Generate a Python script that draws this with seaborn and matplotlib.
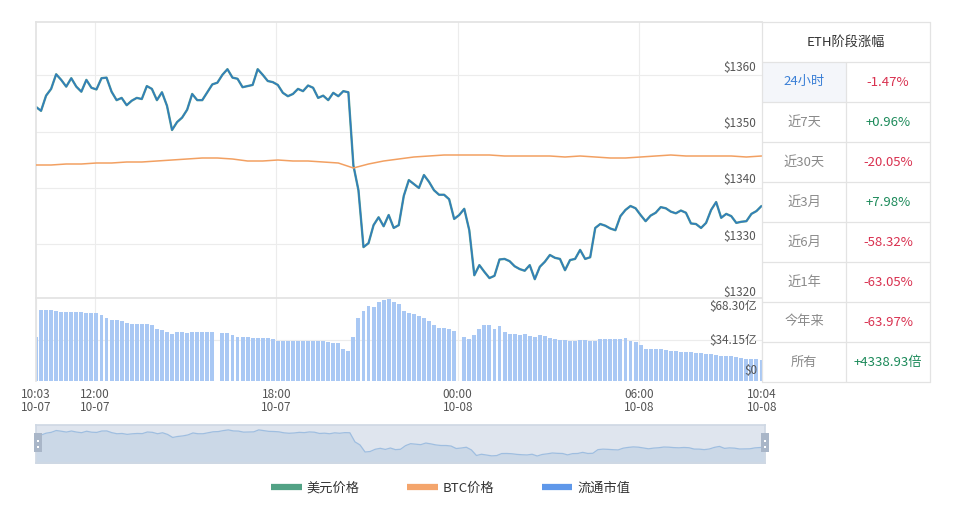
import numpy as np
import pandas as pd
import matplotlib
matplotlib.use("Agg")
import matplotlib.pyplot as plt
from matplotlib.lines import Line2D
from matplotlib.patches import Rectangle
import seaborn as sns

# ---- data ----
times = pd.date_range("2022-10-07 10:03", "2022-10-08 10:03", freq="10min")
btc_times = pd.date_range("2022-10-07 10:03", "2022-10-08 10:03", freq="30min")

usd_price = [
    1354.4, 1353.7, 1356.4, 1357.6, 1360.2, 1359.2, 1358.0, 1359.5, 1358.0, 1357.1,
    1359.2, 1357.8, 1357.5, 1359.5, 1359.6, 1357.1, 1355.6, 1356.0, 1354.7, 1355.5,
    1356.0, 1355.8, 1358.1, 1357.6, 1355.6, 1357.0, 1354.6, 1350.3, 1351.7, 1352.5,
    1353.9, 1356.7, 1355.6, 1355.6, 1357.0, 1358.4, 1358.7, 1360.1, 1361.1, 1359.6,
    1359.4, 1357.9, 1358.1, 1358.3, 1361.1, 1360.1, 1359.0, 1358.8, 1358.3, 1356.9,
    1356.3, 1356.7, 1357.6, 1357.2, 1358.2, 1357.8, 1356.0, 1356.4, 1355.6, 1356.9,
    1356.3, 1357.2, 1357.0, 1344.0, 1339.6, 1329.5, 1330.2, 1333.4, 1334.8, 1333.2,
    1335.2, 1332.9, 1333.4, 1338.6, 1341.4, 1340.7, 1340.0, 1342.3, 1341.1, 1339.6,
    1338.8, 1338.8, 1338.0, 1334.5, 1335.2, 1336.3, 1332.5, 1324.5, 1326.3, 1325.1,
    1324.0, 1324.4, 1327.3, 1327.4, 1327.0, 1326.1, 1325.6, 1325.3, 1326.3, 1323.8,
    1326.0, 1326.9, 1328.1, 1327.6, 1327.4, 1325.4, 1327.2, 1327.4, 1329.0, 1327.4,
    1327.7, 1332.9, 1333.6, 1333.3, 1332.8, 1332.5, 1335.0, 1336.1, 1336.8, 1336.4,
    1335.2, 1334.1, 1335.1, 1335.6, 1336.6, 1336.4, 1335.8, 1335.5, 1336.0, 1335.6,
    1333.7, 1333.6, 1332.9, 1333.8, 1336.1, 1337.5, 1334.7, 1335.4, 1335.0, 1333.8,
    1334.0, 1334.1, 1335.4, 1335.9, 1336.8,
]

# 成交额, 亿美元
volume_yi = [
    35.8, 58.4, 58.4, 58.4, 57.8, 57.0, 56.5, 56.5, 56.5, 56.5,
    56.3, 56.3, 56.0, 54.5, 52.0, 50.0, 50.0, 49.5, 48.0, 46.8,
    46.8, 46.5, 46.5, 46.0, 43.0, 41.9, 40.0, 39.0, 40.5, 40.5,
    39.5, 40.2, 40.2, 40.5, 40.5, 40.5, 0.0, 39.7, 39.7, 37.5,
    36.4, 36.4, 35.8, 35.5, 35.2, 35.5, 35.2, 34.5, 33.2, 33.0,
    33.0, 33.2, 33.2, 33.2, 33.2, 33.2, 33.0, 33.0, 31.7, 31.5,
    31.0, 26.5, 24.5, 35.8, 52.0, 58.0, 62.0, 61.0, 65.0, 66.5,
    67.5, 65.0, 63.0, 57.8, 56.0, 55.0, 53.7, 52.0, 49.6, 46.0,
    44.0, 43.5, 42.5, 40.8, 0.0, 35.8, 34.5, 38.0, 43.0, 46.3,
    46.0, 43.0, 45.4, 40.0, 38.6, 38.6, 38.0, 38.6, 37.0, 36.5,
    38.0, 37.2, 35.5, 34.4, 34.0, 33.5, 32.8, 33.0, 33.5, 33.5,
    33.0, 33.0, 34.4, 34.4, 34.4, 34.4, 34.4, 35.5, 33.0, 31.7,
    30.0, 26.5, 26.2, 26.0, 26.0, 25.5, 24.8, 24.8, 24.0, 23.8,
    23.5, 23.4, 23.0, 22.5, 22.0, 21.5, 20.7, 20.5, 20.2, 20.0,
    19.0, 18.0, 18.0, 17.9, 17.5,
]

btc_price = [
    0.06775, 0.06775, 0.06776, 0.06776, 0.06777, 0.06777, 0.06778, 0.06778, 0.06779, 0.06780,
    0.06781, 0.06782, 0.06782, 0.06781, 0.06779, 0.06779, 0.06780, 0.06779, 0.06779, 0.06778,
    0.06777, 0.06772, 0.06776, 0.06779, 0.06781, 0.06783, 0.06784, 0.06785, 0.06785, 0.06785,
    0.06785, 0.06784, 0.06784, 0.06784, 0.06784, 0.06783, 0.06784, 0.06783, 0.06782, 0.06782,
    0.06783, 0.06784, 0.06785, 0.06784, 0.06784, 0.06784, 0.06784, 0.06783, 0.06784,
]

tick_times = pd.to_datetime(["2022-10-07 10:03", "2022-10-07 12:00", "2022-10-07 18:00",
                             "2022-10-08 00:00", "2022-10-08 06:00", "2022-10-08 10:04"])
tick_labels = ["10:03\n10-07", "12:00\n10-07", "18:00\n10-07",
               "00:00\n10-08", "06:00\n10-08", "10:04\n10-08"]
price_ticks = [1320, 1330, 1340, 1350, 1360]
vol_ticks = [68.30, 34.15, 0]
vol_tick_labels = ["$68.30亿", "$34.15亿", "$0"]

periods = ["24小时", "近7天", "近30天", "近3月", "近6月", "近1年", "今年来", "所有"]
changes = ["-1.47%", "+0.96%", "-20.05%", "+7.98%", "-58.32%", "-63.05%", "-63.97%", "+4338.93倍"]

legend_names = ["美元价格", "BTC价格", "流通市值"]
legend_colors = ["#52a285", "#f4a56c", "#5f98ea"]

# ---- styling ----
sns.set_theme(style="white")
plt.rcParams['font.family'] = ['Noto Sans CJK SC', 'DejaVu Sans']

t0 = times[0]
minutes = (times - t0) / pd.Timedelta(minutes=1)
btc_minutes = (btc_times - t0) / pd.Timedelta(minutes=1)
tick_minutes = (tick_times - t0) / pd.Timedelta(minutes=1)
df = pd.DataFrame({"min": minutes, "price": usd_price, "vol": volume_yi})
df_btc = pd.DataFrame({"min": btc_minutes, "btc": btc_price})

W, H = 971, 508
fig = plt.figure(figsize=(W / 100, H / 100), dpi=100)


def box(x0, y0, x1, y1):
    return [x0 / W, 1 - y1 / H, (x1 - x0) / W, (y1 - y0) / H]


grid_c = "#ececec"
xmax = 1441

ax_p = fig.add_axes(box(36, 22, 762, 298))
ax_v = fig.add_axes(box(36, 298, 762, 381))
ax_s = fig.add_axes(box(36, 425, 765, 463))
ax_t = fig.add_axes(box(762, 22, 930, 382))

# price panel
sns.lineplot(data=df, x="min", y="price", ax=ax_p, color="#5aa08c", lw=1.7)
sns.lineplot(data=df, x="min", y="price", ax=ax_p, color="#2f7cc0", lw=1.05)
ax_p.set_xlim(0, xmax)
ax_p.set_ylim(1320.46, 1369.48)
ax_p.set_yticks(price_ticks[1:])
ax_p.set_xticks(tick_minutes[1:-1])
ax_p.tick_params(labelleft=False, labelbottom=False, length=0)
ax_p.grid(True, color=grid_c, lw=0.8)
ax_p.set_xlabel("")
ax_p.set_ylabel("")
for s in ["bottom", "right"]:
    ax_p.spines[s].set_visible(False)
for s in ["top", "left"]:
    ax_p.spines[s].set_color("#e3e3e3")
for v in price_ticks:
    ax_p.annotate(f"${v}", xy=(1, v), xycoords=("axes fraction", "data"),
                  xytext=(-4.3, 5.8), textcoords="offset points", ha="right", va="center",
                  fontsize=8.5, color="#555555", annotation_clip=False)

ax_b = ax_p.twinx()
sns.lineplot(data=df_btc, x="min", y="btc", ax=ax_b, color="#f2a062", lw=1.1)
ax_b.set_ylim(0.06642, 0.06918)
ax_b.set_yticks([])
ax_b.set_ylabel("")
for s in ax_b.spines.values():
    s.set_visible(False)

# volume panel
sns.barplot(data=df, x="min", y="vol", ax=ax_v, native_scale=True, width=0.78,
            color="#a9c8f4", saturation=1, errorbar=None, edgecolor="none")
ax_v.set_xlim(0, xmax)
ax_v.set_ylim(0, 68.3)
ax_v.set_yticks([34.15])
ax_v.set_xticks(tick_minutes)
ax_v.set_xticklabels(tick_labels, fontsize=8.5, color="#555555", linespacing=1.05)
ax_v.tick_params(axis="x", length=0, pad=5)
ax_v.tick_params(axis="y", labelleft=False, length=0)
ax_v.grid(True, color=grid_c, lw=0.8)
ax_v.set_axisbelow(True)
ax_v.set_xlabel("")
ax_v.set_ylabel("")
for s in ["bottom", "right"]:
    ax_v.spines[s].set_visible(False)
for s in ["top", "left"]:
    ax_v.spines[s].set_color("#e3e3e3")
offsets = [-5.8, -1.0, 7.5]
for v, lab, off in zip(vol_ticks, vol_tick_labels, offsets):
    ax_v.annotate(lab, xy=(1, v), xycoords=("axes fraction", "data"),
                  xytext=(-3.5, off), textcoords="offset points", ha="right", va="center",
                  fontsize=8.5, color="#555555", annotation_clip=False)

# data-zoom slider
ax_s.set_facecolor("#dfe5ee")
ax_s.fill_between(minutes, usd_price, 1300, color="#cbd8e7", lw=0)
sns.lineplot(data=df, x="min", y="price", ax=ax_s, color="#9fbee0", lw=0.9)
ax_s.set_xlim(0, 1440)
ax_s.set_ylim(1313.8, 1368.1)
ax_s.set_xticks([])
ax_s.set_yticks([])
ax_s.set_xlabel("")
ax_s.set_ylabel("")
for s in ax_s.spines.values():
    s.set_color("#cfd8e4")
for hx in [34, 761]:
    fig.add_artist(Rectangle((hx / W, 1 - 452 / H), 8 / W, 19 / H, transform=fig.transFigure,
                             facecolor="#a9b6c8", edgecolor="none"))
    for dy in [440, 446]:
        fig.add_artist(Rectangle(((hx + 3) / W, 1 - (dy + 2) / H), 2 / W, 2 / H,
                                 transform=fig.transFigure, facecolor="white", edgecolor="none"))

# right-hand table
ax_t.set_xlim(0, 168)
ax_t.set_ylim(360, 0)
ax_t.axis("off")
line_c = "#e3e3e3"
ax_t.add_patch(Rectangle((0, 40), 84, 40, facecolor="#f4f6fa", edgecolor="none"))
for yy in range(0, 361, 40):
    ax_t.plot([0, 168], [yy, yy], color=line_c, lw=0.9, clip_on=False)
for xx in [0, 168]:
    ax_t.plot([xx, xx], [0, 360], color=line_c, lw=0.9, clip_on=False)
ax_t.plot([84, 84], [40, 360], color=line_c, lw=0.9)
ax_t.text(84, 20, "ETH阶段涨幅", ha="center", va="center", fontsize=9.5, color="#333333")
for k, (p, c) in enumerate(zip(periods, changes)):
    yc = 60 + 40 * k
    pc = "#3a7fd6" if k == 0 else "#8a8a8a"
    ax_t.text(42, yc, p, ha="center", va="center", fontsize=9.5, color=pc)
    cc = "#1c8a5a" if c.startswith("+") else "#d9304f"
    ax_t.text(126, yc, c, ha="center", va="center", fontsize=9.5, color=cc)

# legend
handles = [Line2D([], [], color=c, lw=4.5, solid_capstyle="butt") for c in legend_colors]
fig.legend(handles, legend_names, loc="center", bbox_to_anchor=(451 / W, 1 - 488 / H),
           ncol=3, frameon=False, fontsize=9.5, handlelength=2.3, handletextpad=0.4,
           columnspacing=3.6, labelcolor="#333333")

fig.savefig("out.png", dpi=100, facecolor="white")
